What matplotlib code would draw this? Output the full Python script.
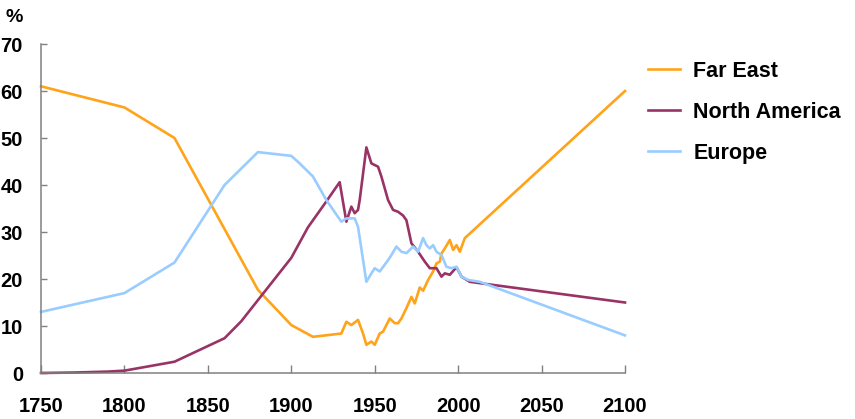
import matplotlib
matplotlib.use("Agg")
import matplotlib.pyplot as plt

plt.rcParams['font.family'] = ['Liberation Sans', 'DejaVu Sans']

# ---- data ----
fe_years = [1750, 1800, 1830, 1880, 1900, 1913, 1930, 1933, 1936, 1940, 1943, 1945,
            1948, 1950, 1953, 1955, 1957, 1959, 1962, 1964, 1966, 1969, 1972, 1974,
            1977, 1979, 1982, 1985, 1987, 1989, 1990, 1992, 1995, 1997, 1999, 2001,
            2004, 2100]
fe_vals = [61, 56.5, 50, 17.7, 10.2, 7.7, 8.4, 10.9, 10.2, 11.3, 8.4, 6.0,
           6.7, 6.0, 8.4, 8.8, 10.2, 11.6, 10.6, 10.6, 11.6, 13.8, 16.2, 14.8,
           18.2, 17.5, 19.8, 21.6, 23.3, 23.7, 25.4, 26.5, 28.3, 26.2, 27.2, 25.8,
           28.7, 60]

na_years = [1750, 1770, 1790, 1800, 1830, 1860, 1870, 1880, 1890, 1900, 1910, 1920,
            1929, 1933, 1936, 1938, 1940, 1941, 1945, 1948, 1952, 1954, 1958, 1961,
            1964, 1967, 1969, 1972, 1976, 1980, 1983, 1987, 1990, 1992, 1995, 1999,
            2002, 2007, 2100]
na_vals = [0, 0.1, 0.3, 0.5, 2.4, 7.4, 11, 15.5, 20, 24.5, 31, 36,
           40.6, 32.2, 35.4, 34, 34.7, 36.8, 48.0, 44.6, 43.9, 41.8, 36.8, 34.7,
           34.3, 33.5, 32.5, 27.6, 25.8, 23.7, 22.3, 22.3, 20.5, 21.2, 20.9, 22.5,
           20.5, 19.4, 15]

eu_years = [1750, 1800, 1830, 1860, 1880, 1900, 1905, 1913, 1921, 1930, 1933, 1938,
            1940, 1945, 1948, 1950, 1953, 1958, 1960, 1963, 1966, 1969, 1973, 1976,
            1979, 1981, 1983, 1985, 1987, 1990, 1993, 1996, 1999, 2002, 2006, 2013,
            2100]
eu_vals = [13, 17, 23.5, 40, 47, 46.2, 44.6, 41.8, 36.8, 32.2, 32.9, 32.9,
           31.1, 19.4, 21.2, 22.3, 21.6, 24.0, 25.1, 26.9, 25.8, 25.5, 26.9, 25.8,
           28.7, 27.2, 26.5, 27.2, 25.8, 25.1, 22.6, 22.3, 22.6, 20.5, 19.8, 19.4,
           8]

labels = ["Far East", "North America", "Europe"]
colors = ["#FFA31A", "#993366", "#99CCFF"]
x_ticks = [1750, 1800, 1850, 1900, 1950, 2000, 2050, 2100]
y_ticks = [0, 10, 20, 30, 40, 50, 60, 70]

# ---- figure ----
fig = plt.figure(figsize=(8.55, 4.19), dpi=100)
ax = fig.add_axes([41/855, 1-373/419, (625-41)/855, (373-44)/419])

series = [(fe_years, fe_vals), (na_years, na_vals), (eu_years, eu_vals)]
handles = []
for (xs, ys), lab, col in zip(series, labels, colors):
    h, = ax.plot(xs, ys, color=col, lw=1.9, label=lab, clip_on=False,
                 solid_joinstyle='round')
    handles.append(h)

ax.set_xlim(1750, 2100)
ax.set_ylim(0, 70)
ax.set_xticks(x_ticks)
ax.set_yticks(y_ticks)
ax.set_xticklabels([str(v) for v in x_ticks])
ax.set_yticklabels([str(v) for v in y_ticks])

for s in ['top', 'right']:
    ax.spines[s].set_visible(False)
for s in ['left', 'bottom']:
    ax.spines[s].set_color('#808080')
    ax.spines[s].set_linewidth(1.1)

ax.tick_params(axis='x', direction='in', length=5.5, width=1.0, color='#808080',
               pad=17, labelsize=14.5)
ax.tick_params(axis='y', direction='in', length=4, width=1.0, color='#808080',
               pad=13, labelsize=14.5)
for lbl in ax.get_xticklabels() + ax.get_yticklabels():
    lbl.set_fontweight('bold')

fig.text(5/855, 1-17/419, "%", fontsize=14, fontweight='bold', va='center', ha='left')

leg = fig.legend(handles=handles, labels=labels, loc='upper left',
                 bbox_to_anchor=(648/855, 1-61/419), frameon=False,
                 borderpad=0, borderaxespad=0, handlelength=1.5,
                 handletextpad=0.6, labelspacing=0.92,
                 prop={'size': 15.5, 'weight': 'bold'})

fig.savefig("out.png", dpi=100)
